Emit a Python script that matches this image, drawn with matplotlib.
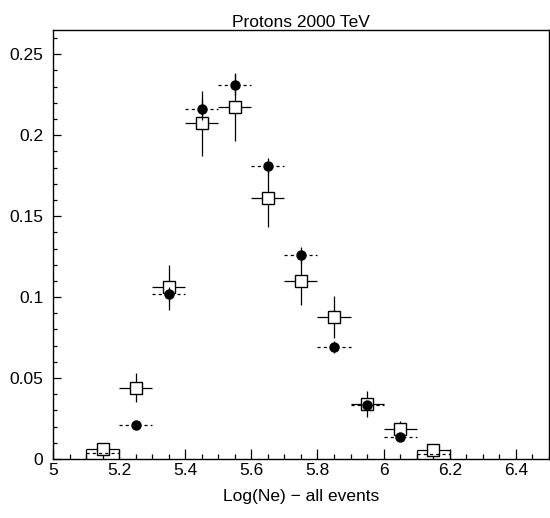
import matplotlib
matplotlib.use('Agg')
import matplotlib.pyplot as plt
from matplotlib.ticker import MultipleLocator, FormatStrFormatter
import numpy as np

plt.rcParams['font.family'] = ['Liberation Sans', 'DejaVu Sans']

# bin centres in Log(Ne), bin width 0.1
bin_centers = [5.15, 5.25, 5.35, 5.45, 5.55, 5.65, 5.75, 5.85, 5.95, 6.05, 6.15]
bin_half = 0.05

# open squares (solid error bars)
sq_vals = [0.006, 0.044, 0.106, 0.2074, 0.2173, 0.1615, 0.110, 0.0878, 0.0338, 0.0183, 0.0056]
sq_errs = [0.002, 0.009, 0.014, 0.020, 0.021, 0.018, 0.015, 0.013, 0.008, 0.005, 0.002]

# filled circles (dashed horizontal bars)
circ_vals = [0.0035, 0.021, 0.102, 0.216, 0.2313, 0.181, 0.126, 0.0693, 0.0335, 0.0134, 0.003]
circ_errs = [0.001, 0.002, 0.0045, 0.0065, 0.0067, 0.005, 0.005, 0.0037, 0.0026, 0.0016, 0.001]
circ_marker_shown = [False, True, True, True, True, True, True, True, True, True, False]

# bins where the square is drawn as a box down to the axis
box_bins = [5.15, 6.15]

x = np.array(bin_centers)
sq = np.array(sq_vals)
sqe = np.array(sq_errs)
ci = np.array(circ_vals)
cie = np.array(circ_errs)
shown = np.array(circ_marker_shown)

fig = plt.figure(figsize=(5.5, 5.18), dpi=100)
ax = fig.add_axes([0.0964, 0.1139, 0.9016, 0.8282])

lw = 0.9

# squares
ax.hlines(sq, x - bin_half, x + bin_half, colors='black', linewidth=lw, zorder=2)
ax.vlines(x, sq - sqe, sq + sqe, colors='black', linewidth=lw, zorder=2)
for b in box_bins:
    v = sq[list(bin_centers).index(b)]
    ax.vlines([b - bin_half, b + bin_half], 0, v, colors='black', linewidth=lw, zorder=2)
ax.plot(x, sq, linestyle='none', marker='s', markersize=8, markerfacecolor='white',
        markeredgecolor='black', markeredgewidth=1.0, zorder=3)

# circles
ax.hlines(ci, x - bin_half, x + bin_half, colors='black', linewidth=lw,
          linestyles=(0, (2.5, 2.5)), zorder=4)
ax.vlines(x[shown], (ci - cie)[shown], (ci + cie)[shown], colors='black', linewidth=lw, zorder=4)
ax.plot(x[shown], ci[shown], linestyle='none', marker='o', markersize=6.5,
        markerfacecolor='black', markeredgecolor='black', zorder=5)

ax.set_xlim(5, 6.5)
ax.set_ylim(0, 0.265)

ax.xaxis.set_major_locator(MultipleLocator(0.2))
ax.xaxis.set_minor_locator(MultipleLocator(0.05))
ax.yaxis.set_major_locator(MultipleLocator(0.05))
ax.yaxis.set_minor_locator(MultipleLocator(0.01))
ax.xaxis.set_major_formatter(FormatStrFormatter('%g'))
ax.yaxis.set_major_formatter(FormatStrFormatter('%g'))

ax.tick_params(which='both', direction='in', top=False, right=False, width=0.9,
               labelsize=12.5, color='black')
ax.tick_params(axis='x', which='major', length=7, pad=3)
ax.tick_params(axis='x', which='minor', length=3.5)
ax.tick_params(axis='y', which='major', length=6, pad=7)
ax.tick_params(axis='y', which='minor', length=3)

for s in ax.spines.values():
    s.set_linewidth(1.0)

ax.set_title('Protons 2000 TeV', fontsize=12.5, pad=2)
ax.set_xlabel('Log(Ne) \u2212 all events', fontsize=12.5, labelpad=8)

fig.savefig('out.png', dpi=100)
